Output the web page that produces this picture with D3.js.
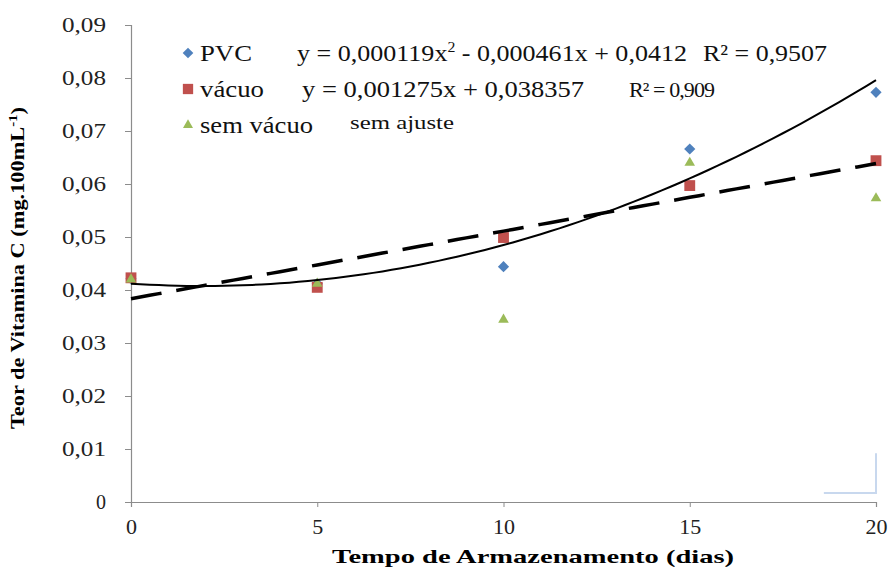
<!DOCTYPE html>
<html>
<head>
<meta charset="utf-8">
<script src="https://cdn.jsdelivr.net/npm/d3@7"></script>
<style>
  body { margin: 0; background: #fff; }
  svg text { font-family: "Liberation Serif", "Times New Roman", "DejaVu Serif", serif; }
</style>
</head>
<body>
<svg id="chart" width="893" height="571"></svg>
<script>
// data
const days = [0, 5, 10, 15, 20];
const pvc = [0.0421, 0.0412, 0.0444, 0.0666, 0.0773];
const vacuo = [0.0423, 0.0405, 0.0499, 0.0597, 0.0644];
const semVacuo = [0.0420, 0.0412, 0.0344, 0.0640, 0.0573];

// trendline coefficients printed on the chart (c0 + c1*x + c2*x^2)
const pvcFit = [0.0412, -0.000461, 0.000119];
const vacuoFit = [0.038357, 0.001275, 0];

const xTicks = [0, 5, 10, 15, 20];
const yTicks = [0, 0.01, 0.02, 0.03, 0.04, 0.05, 0.06, 0.07, 0.08, 0.09];

const margin = { top: 25, right: 17, bottom: 69, left: 131 };
const W = 893, H = 571;
const width = W - margin.left - margin.right;
const height = H - margin.top - margin.bottom;
const serif = '"Liberation Serif", "Times New Roman", "DejaVu Serif", serif';

const svg = d3.select("#chart");
const g = svg.append("g").attr("transform", `translate(${margin.left},${margin.top})`);

const x = d3.scaleLinear().domain([0, 20]).range([0, width]);
const y = d3.scaleLinear().domain([0, 0.09]).range([height, 0]);

const fmt = d => d === 0 ? "0" : d3.format(".2f")(d).replace(".", ",");

// axes
const yAxis = g.append("g")
  .call(d3.axisLeft(y).tickValues(yTicks).tickFormat(fmt).tickSize(6).tickPadding(19));
const xAxis = g.append("g")
  .attr("transform", `translate(0,${height})`)
  .call(d3.axisBottom(x).tickValues(xTicks).tickFormat(d3.format("d")).tickSize(5).tickPadding(11));

[xAxis, yAxis].forEach(a => {
  a.attr("font-family", serif).attr("font-size", 20);
  a.select(".domain").attr("stroke", "#8c8c8c").attr("stroke-width", 1.2);
  a.selectAll(".tick line").attr("stroke", "#8c8c8c");
  a.selectAll(".tick text")
    .attr("fill", "#222")
    .attr("font-family", serif)
    .attr("font-size", 20);
});
yAxis.selectAll(".tick text").filter(d => d !== 0)
  .attr("textLength", 44).attr("lengthAdjust", "spacingAndGlyphs");
xAxis.selectAll(".tick text").attr("font-size", 22);

// faint artifact near bottom-right corner
g.append("path")
  .attr("d", `M${x(18.6)},${y(0.0017)} H${x(20)} V${y(0.0092)}`)
  .attr("fill", "none").attr("stroke", "#c8d8ee").attr("stroke-width", 2);

// markers
const series = [
  { name: "PVC", values: pvc, color: "#4F81BD", shape: d3.symbolDiamond2, size: 80 },
  { name: "vácuo", values: vacuo, color: "#C0504D", shape: d3.symbolSquare2, size: 150 },
  { name: "sem vácuo", values: semVacuo, color: "#9BBB59", shape: d3.symbolTriangle2, size: 80 }
];

series.forEach(s => {
  g.append("g").selectAll("path")
    .data(s.values)
    .join("path")
    .attr("transform", (d, i) => `translate(${x(days[i])},${y(d)})`)
    .attr("d", d3.symbol().type(s.shape).size(s.size))
    .attr("fill", s.color);
});

// trendlines
const fitLine = d3.line().x(d => x(d[0])).y(d => y(d[1]));
const evalFit = (c, t) => c[0] + c[1] * t + c[2] * t * t;
const xs = d3.range(0, 20.01, 0.25);

g.append("path")
  .datum(xs.map(t => [t, evalFit(pvcFit, t)]))
  .attr("d", fitLine)
  .attr("fill", "none").attr("stroke", "#000").attr("stroke-width", 2);

g.append("path")
  .datum(xs.map(t => [t, evalFit(vacuoFit, t)]))
  .attr("d", fitLine)
  .attr("fill", "none").attr("stroke", "#000").attr("stroke-width", 3.5)
  .attr("stroke-dasharray", "31 15");

// legend
const legend = svg.append("g").style("font-size", "23px").attr("fill", "#111");
const rows = [
  { y: 53, s: series[0], w: 52 },
  { y: 89, s: series[1], w: 64 },
  { y: 125, s: series[2], w: 113 }
];
rows.forEach(r => {
  legend.append("path")
    .attr("transform", `translate(188,${r.y})`)
    .attr("d", d3.symbol().type(r.s.shape).size(r.s.size * 0.9))
    .attr("fill", r.s.color);
  legend.append("text").attr("x", 200).attr("y", r.y + 8)
    .attr("textLength", r.w).attr("lengthAdjust", "spacingAndGlyphs")
    .text(r.s.name);
});
const eq1 = legend.append("text").attr("x", 297).attr("y", rows[0].y + 8)
  .attr("textLength", 390).attr("lengthAdjust", "spacingAndGlyphs");
eq1.append("tspan").text("y = 0,000119x");
eq1.append("tspan").attr("dy", -9).style("font-size", "14px").text("2");
eq1.append("tspan").attr("dy", 9).text(" - 0,000461x + 0,0412");
legend.append("text").attr("x", 703).attr("y", rows[0].y + 8)
  .attr("textLength", 124).attr("lengthAdjust", "spacingAndGlyphs")
  .text("R² = 0,9507");
legend.append("text").attr("x", 302).attr("y", rows[1].y + 8)
  .attr("textLength", 282).attr("lengthAdjust", "spacingAndGlyphs")
  .text("y = 0,001275x + 0,038357");
legend.append("text").attr("x", 629).attr("y", rows[1].y + 8)
  .style("font-size", "22px")
  .attr("textLength", 86).attr("lengthAdjust", "spacing")
  .text("R² = 0,909");
legend.append("text").attr("x", 350).attr("y", rows[2].y + 4)
  .style("font-size", "19px")
  .attr("textLength", 104).attr("lengthAdjust", "spacingAndGlyphs")
  .text("sem ajuste");

// axis titles
svg.append("text")
  .attr("x", 533).attr("y", 563)
  .attr("text-anchor", "middle")
  .style("font-size", "19px").style("font-weight", "bold")
  .attr("textLength", 402).attr("lengthAdjust", "spacingAndGlyphs")
  .text("Tempo de Armazenamento  (dias)");

const yt = svg.append("text")
  .attr("transform", `translate(24,268) rotate(-90)`)
  .attr("text-anchor", "middle")
  .style("font-size", "18px").style("font-weight", "bold")
  .attr("textLength", 322).attr("lengthAdjust", "spacingAndGlyphs");
yt.append("tspan").text("Teor de Vitamina  C (mg.100mL");
yt.append("tspan").attr("dy", -7).style("font-size", "12px").text("-1");
yt.append("tspan").attr("dy", 7).text(")");
</script>
</body>
</html>
